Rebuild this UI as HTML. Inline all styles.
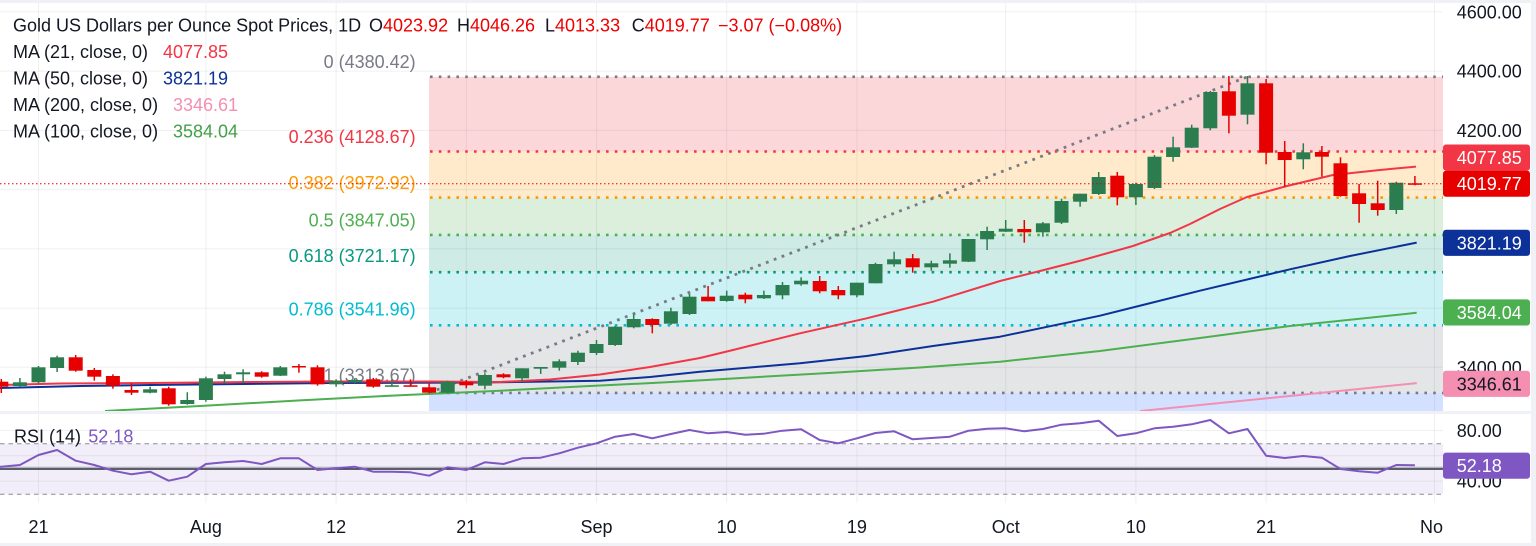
<!DOCTYPE html>
<html><head><meta charset="utf-8"><style>
html,body{margin:0;padding:0;background:#fff;}
body{width:1536px;height:546px;overflow:hidden;}
svg{display:block;font-family:"Liberation Sans",Arial,sans-serif;}
</style></head><body>
<svg width="1536" height="546" viewBox="0 0 1536 546" xmlns="http://www.w3.org/2000/svg">
<defs>
<clipPath id="cm"><rect x="0" y="3" width="1443" height="408"/></clipPath>
<clipPath id="cr"><rect x="0" y="414" width="1443" height="89"/></clipPath>
<clipPath id="cx"><rect x="0" y="503" width="1443" height="40"/></clipPath>
</defs>
<rect width="1536" height="546" fill="#fff"/>

<g clip-path="url(#cm)">
 <!-- fib fills -->
 <rect x="429" y="76.8" width="1014" height="74.7" fill="#fcd7da"/>
 <rect x="429" y="151.5" width="1014" height="46.1" fill="#ffebcc"/>
 <rect x="429" y="197.6" width="1014" height="37.3" fill="#dbefdc"/>
 <rect x="429" y="234.9" width="1014" height="37.3" fill="#ceebe6"/>
 <rect x="429" y="272.2" width="1014" height="53.1" fill="#ccf2f6"/>
 <rect x="429" y="325.3" width="1014" height="67.6" fill="#e4e5e7"/>
 <rect x="429" y="392.9" width="1014" height="20" fill="#d4e0ff"/>
 <!-- grid -->
 <g stroke="rgba(42,46,57,0.07)" stroke-width="1">
  <line x1="0" y1="11.9" x2="1443" y2="11.9"/>
  <line x1="0" y1="71.1" x2="1443" y2="71.1"/>
  <line x1="0" y1="130.4" x2="1443" y2="130.4"/>
  <line x1="0" y1="189.6" x2="1443" y2="189.6"/>
  <line x1="0" y1="248.9" x2="1443" y2="248.9"/>
  <line x1="0" y1="308.1" x2="1443" y2="308.1"/>
  <line x1="0" y1="367.3" x2="1443" y2="367.3"/>
  <line x1="38.5" y1="0" x2="38.5" y2="411"/>
  <line x1="205.9" y1="0" x2="205.9" y2="411"/>
  <line x1="336.1" y1="0" x2="336.1" y2="411"/>
  <line x1="466.3" y1="0" x2="466.3" y2="411"/>
  <line x1="596.5" y1="0" x2="596.5" y2="411"/>
  <line x1="726.7" y1="0" x2="726.7" y2="411"/>
  <line x1="856.9" y1="0" x2="856.9" y2="411"/>
  <line x1="1005.7" y1="0" x2="1005.7" y2="411"/>
  <line x1="1135.9" y1="0" x2="1135.9" y2="411"/>
  <line x1="1266.1" y1="0" x2="1266.1" y2="411"/>
  <line x1="1434.5" y1="0" x2="1434.5" y2="411"/>
 </g>
 <!-- fib lines -->
 <g stroke-width="2.6" stroke-dasharray="2.6 6.2" fill="none">
  <line x1="430" y1="76.8" x2="1443" y2="76.8" stroke="#787b86"/>
  <line x1="430" y1="151.5" x2="1443" y2="151.5" stroke="#f23645"/>
  <line x1="430" y1="197.6" x2="1443" y2="197.6" stroke="#ff9800"/>
  <line x1="430" y1="234.9" x2="1443" y2="234.9" stroke="#4caf50"/>
  <line x1="430" y1="272.2" x2="1443" y2="272.2" stroke="#089981"/>
  <line x1="430" y1="325.3" x2="1443" y2="325.3" stroke="#00bcd4"/>
  <line x1="430" y1="392.9" x2="1443" y2="392.9" stroke="#787b86"/>
 </g>
 <!-- fib labels -->
 <g font-size="18" text-anchor="end">
  <text x="415.7" y="68.2" fill="#787b86">0 (4380.42)</text>
  <text x="415.7" y="143.2" fill="#f23645">0.236 (4128.67)</text>
  <text x="415.7" y="189.2" fill="#ff9800">0.382 (3972.92)</text>
  <text x="415.7" y="226.5" fill="#4caf50">0.5 (3847.05)</text>
  <text x="415.7" y="262.2" fill="#089981">0.618 (3721.17)</text>
  <text x="415.7" y="315.5" fill="#00bcd4">0.786 (3541.96)</text>
  <text x="415.7" y="381.5" fill="#787b86">1 (3313.67)</text>
 </g>
 <!-- trend line -->
 <line x1="429" y1="392.9" x2="1247.5" y2="76.8" stroke="#787b86" stroke-width="2.8" stroke-dasharray="2.8 5.6"/>
 <!-- MAs -->
 <g fill="none" stroke-width="2" stroke-linejoin="round">
  <polyline stroke="#f48fb1" points="1140,411 1290,396 1416.7,383.1"/>
  <polyline stroke="#4caf50" points="105,411 200,406 300,400.4 400,395.2 500,390.7 580,386.5 666.7,382.3 750,377.5 833,372.7 920,367.5 1000,361.7 1100,351 1200,338 1290,326 1416.7,312.8"/>
  <polyline stroke="#0c3299" points="0,388 80,386 150,385 330,383 480,382.5 600,380.7 650,377 700,371.7 800,363.3 866.7,356 933,346 1000,336.7 1100,315.7 1200,290.7 1290,269.3 1350,256 1416.7,242.6"/>
  <polyline stroke="#f23645" points="0,385 60,383.5 150,383 250,382 330,381.5 430,381.5 500,382 550,379.5 600,374.5 650,367 700,358 733,350 800,333.3 866.7,318.3 933,301.7 1000,281 1040,271 1083,260 1133,246 1150,240 1170,233 1190,224 1220,209 1247,197 1287,186 1333,175 1380,170 1416,166.6"/>
 </g>
 <!-- candles green -->
 <g fill="#2b7d4f">
  <rect x="19.15" y="378" width="1.5" height="9"/><rect x="12.9" y="382.3" width="14" height="3.7"/>
  <rect x="37.75" y="366" width="1.5" height="17.3"/><rect x="31.5" y="367.3" width="14" height="15"/>
  <rect x="56.35" y="355.7" width="1.5" height="16.3"/><rect x="50.1" y="357.3" width="14" height="10.7"/>
  <rect x="149.35" y="386.7" width="1.5" height="6.6"/><rect x="143.1" y="389.3" width="14" height="3.4"/>
  <rect x="186.55" y="392.3" width="1.5" height="12.4"/><rect x="180.3" y="400" width="14" height="4"/>
  <rect x="205.15" y="376.7" width="1.5" height="25"/><rect x="198.9" y="378.3" width="14" height="21.7"/>
  <rect x="223.75" y="371.7" width="1.5" height="11.6"/><rect x="217.5" y="374.3" width="14" height="4.7"/>
  <rect x="242.35" y="369.3" width="1.5" height="14"/><rect x="236.1" y="372.3" width="14" height="2"/>
  <rect x="279.55" y="366" width="1.5" height="10"/><rect x="273.3" y="367.3" width="14" height="8.4"/>
  <rect x="335.35" y="379.3" width="1.5" height="7.4"/><rect x="329.1" y="381" width="14" height="3.3"/>
  <rect x="353.95" y="378.3" width="1.5" height="5"/><rect x="347.7" y="380" width="14" height="2.3"/>
  <rect x="391.15" y="379.3" width="1.5" height="7.4"/><rect x="384.9" y="385.3" width="14" height="1.5"/>
  <rect x="446.95" y="380.7" width="1.5" height="12.6"/><rect x="440.7" y="381.7" width="14" height="11"/>
  <rect x="484.15" y="373.3" width="1.5" height="16"/><rect x="477.9" y="375" width="14" height="10.7"/>
  <rect x="521.35" y="368.3" width="1.5" height="13.4"/><rect x="515.1" y="368.3" width="14" height="10"/>
  <rect x="539.95" y="367" width="1.5" height="7"/><rect x="533.7" y="367" width="14" height="1.7"/>
  <rect x="558.55" y="359.3" width="1.5" height="11.4"/><rect x="552.3" y="361.3" width="14" height="6.4"/>
  <rect x="577.15" y="350.7" width="1.5" height="14.3"/><rect x="570.9" y="352.7" width="14" height="9.3"/>
  <rect x="595.75" y="340" width="1.5" height="15"/><rect x="589.5" y="344" width="14" height="9"/>
  <rect x="614.35" y="326" width="1.5" height="20"/><rect x="608.1" y="326.7" width="14" height="18.3"/>
  <rect x="632.95" y="314.3" width="1.5" height="14"/><rect x="626.7" y="319" width="14" height="8.3"/>
  <rect x="670.15" y="307.7" width="1.5" height="17.3"/><rect x="663.9" y="311.3" width="14" height="12.4"/>
  <rect x="688.75" y="294" width="1.5" height="21"/><rect x="682.5" y="296.7" width="14" height="17.3"/>
  <rect x="725.95" y="290.7" width="1.5" height="11"/><rect x="719.7" y="295.7" width="14" height="5.3"/>
  <rect x="763.15" y="290.7" width="1.5" height="8.3"/><rect x="756.9" y="295" width="14" height="3.3"/>
  <rect x="781.75" y="282" width="1.5" height="17.3"/><rect x="775.5" y="285" width="14" height="10.3"/>
  <rect x="800.35" y="277.3" width="1.5" height="8.4"/><rect x="794.1" y="280.7" width="14" height="3.6"/>
  <rect x="856.15" y="282.7" width="1.5" height="14.6"/><rect x="849.9" y="282.7" width="14" height="12.6"/>
  <rect x="874.75" y="262.7" width="1.5" height="20.6"/><rect x="868.5" y="264" width="14" height="19.3"/>
  <rect x="893.35" y="251.7" width="1.5" height="15"/><rect x="887.1" y="259.3" width="14" height="5"/>
  <rect x="930.55" y="260.7" width="1.5" height="10"/><rect x="924.3" y="263.3" width="14" height="4"/>
  <rect x="949.15" y="253.3" width="1.5" height="14.4"/><rect x="942.9" y="260.3" width="14" height="3.4"/>
  <rect x="967.75" y="239" width="1.5" height="23"/><rect x="961.5" y="239" width="14" height="22.7"/>
  <rect x="986.35" y="226.7" width="1.5" height="23.3"/><rect x="980.1" y="231" width="14" height="8.3"/>
  <rect x="1004.95" y="220" width="1.5" height="12"/><rect x="998.7" y="228.7" width="14" height="3"/>
  <rect x="1042.15" y="222" width="1.5" height="14.7"/><rect x="1035.9" y="223.3" width="14" height="9"/>
  <rect x="1060.75" y="198.7" width="1.5" height="25.3"/><rect x="1054.5" y="201" width="14" height="21.7"/>
  <rect x="1079.35" y="193.7" width="1.5" height="13"/><rect x="1073.1" y="193.7" width="14" height="8"/>
  <rect x="1097.95" y="172" width="1.5" height="23"/><rect x="1091.7" y="177" width="14" height="17"/>
  <rect x="1135.15" y="182.7" width="1.5" height="22.3"/><rect x="1128.9" y="184" width="14" height="13.3"/>
  <rect x="1153.75" y="155" width="1.5" height="34"/><rect x="1147.5" y="156.7" width="14" height="31.3"/>
  <rect x="1172.35" y="136.7" width="1.5" height="25"/><rect x="1166.1" y="147.3" width="14" height="9.7"/>
  <rect x="1190.95" y="124.7" width="1.5" height="23.3"/><rect x="1184.7" y="127.7" width="14" height="20"/>
  <rect x="1209.55" y="91" width="1.5" height="39.3"/><rect x="1203.3" y="92" width="14" height="36.3"/>
  <rect x="1246.75" y="76" width="1.5" height="48.3"/><rect x="1240.5" y="83.3" width="14" height="31.4"/>
  <rect x="1302.55" y="143.3" width="1.5" height="26"/><rect x="1296.3" y="152.3" width="14" height="7"/>
  <rect x="1395.55" y="181.7" width="1.5" height="32.3"/><rect x="1389.3" y="182.7" width="14" height="27.3"/>
 </g>
 <!-- candles red -->
 <g fill="#e60000">
  <rect x="0.55" y="379" width="1.5" height="14"/><rect x="-5.7" y="381.7" width="14" height="5"/>
  <rect x="74.95" y="355" width="1.5" height="16.7"/><rect x="68.7" y="357.3" width="14" height="13.4"/>
  <rect x="93.55" y="368" width="1.5" height="12.7"/><rect x="87.3" y="370" width="14" height="6.7"/>
  <rect x="112.15" y="374.3" width="1.5" height="14.4"/><rect x="105.9" y="376" width="14" height="9.7"/>
  <rect x="130.75" y="383.3" width="1.5" height="11.7"/><rect x="124.5" y="390" width="14" height="2.7"/>
  <rect x="167.95" y="386.7" width="1.5" height="19"/><rect x="161.7" y="388.3" width="14" height="16"/>
  <rect x="260.95" y="371.3" width="1.5" height="6.4"/><rect x="254.7" y="372.3" width="14" height="4.4"/>
  <rect x="298.15" y="364" width="1.5" height="8.7"/><rect x="291.9" y="366" width="14" height="1.5"/>
  <rect x="316.75" y="365.3" width="1.5" height="20.4"/><rect x="310.5" y="367.3" width="14" height="17"/>
  <rect x="372.55" y="378" width="1.5" height="9.7"/><rect x="366.3" y="379.3" width="14" height="7.4"/>
  <rect x="409.75" y="379.3" width="1.5" height="7.4"/><rect x="403.5" y="385.3" width="14" height="1.5"/>
  <rect x="428.35" y="382.7" width="1.5" height="10.6"/><rect x="422.1" y="387.3" width="14" height="5.4"/>
  <rect x="465.55" y="380" width="1.5" height="8.3"/><rect x="459.3" y="382" width="14" height="3.3"/>
  <rect x="502.75" y="373.3" width="1.5" height="5"/><rect x="496.5" y="374.3" width="14" height="3"/>
  <rect x="651.55" y="318.3" width="1.5" height="15"/><rect x="645.3" y="319" width="14" height="6"/>
  <rect x="707.35" y="286" width="1.5" height="15.3"/><rect x="701.1" y="296.7" width="14" height="4.6"/>
  <rect x="744.55" y="292.7" width="1.5" height="10.6"/><rect x="738.3" y="294.7" width="14" height="4.6"/>
  <rect x="818.95" y="276" width="1.5" height="17.3"/><rect x="812.7" y="281" width="14" height="10.3"/>
  <rect x="837.55" y="286" width="1.5" height="13.3"/><rect x="831.3" y="290" width="14" height="5.3"/>
  <rect x="911.95" y="254" width="1.5" height="18.7"/><rect x="905.7" y="258.3" width="14" height="9"/>
  <rect x="1023.55" y="220" width="1.5" height="22.7"/><rect x="1017.3" y="229" width="14" height="3.3"/>
  <rect x="1116.55" y="172" width="1.5" height="33.3"/><rect x="1110.3" y="175.7" width="14" height="21.6"/>
  <rect x="1228.15" y="76" width="1.5" height="57.3"/><rect x="1221.9" y="91.3" width="14" height="24.4"/>
  <rect x="1265.35" y="79" width="1.5" height="85.3"/><rect x="1259.1" y="83.3" width="14" height="69.4"/>
  <rect x="1283.95" y="141" width="1.5" height="45.7"/><rect x="1277.7" y="152" width="14" height="8"/>
  <rect x="1321.15" y="146" width="1.5" height="30.7"/><rect x="1314.9" y="152" width="14" height="4.7"/>
  <rect x="1339.75" y="157.3" width="1.5" height="39.4"/><rect x="1333.5" y="163.3" width="14" height="32.7"/>
  <rect x="1358.35" y="184" width="1.5" height="38.7"/><rect x="1352.1" y="193.3" width="14" height="10.7"/>
  <rect x="1376.95" y="180.7" width="1.5" height="35"/><rect x="1370.7" y="203.3" width="14" height="6.7"/>
  <rect x="1414.15" y="176" width="1.5" height="9.3"/><rect x="1407.9" y="183.3" width="14" height="1.5"/>
 </g>
 <!-- current price line -->
 <line x1="0" y1="183.8" x2="1443" y2="183.8" stroke="#e60000" stroke-width="1" stroke-dasharray="1.5 2.5"/>
</g>

<!-- RSI panel -->
<g clip-path="url(#cr)">
 <rect x="0" y="443.7" width="1443" height="50.6" fill="#f2eef9"/>
 <g stroke="rgba(42,46,57,0.07)" stroke-width="1">
  <line x1="0" y1="430.5" x2="1443" y2="430.5"/>
  <line x1="0" y1="455.8" x2="1443" y2="455.8"/>
  <line x1="0" y1="481.1" x2="1443" y2="481.1"/>
  <line x1="38.5" y1="414" x2="38.5" y2="503"/>
  <line x1="205.9" y1="414" x2="205.9" y2="503"/>
  <line x1="336.1" y1="414" x2="336.1" y2="503"/>
  <line x1="466.3" y1="414" x2="466.3" y2="503"/>
  <line x1="596.5" y1="414" x2="596.5" y2="503"/>
  <line x1="726.7" y1="414" x2="726.7" y2="503"/>
  <line x1="856.9" y1="414" x2="856.9" y2="503"/>
  <line x1="1005.7" y1="414" x2="1005.7" y2="503"/>
  <line x1="1135.9" y1="414" x2="1135.9" y2="503"/>
  <line x1="1266.1" y1="414" x2="1266.1" y2="503"/>
  <line x1="1434.5" y1="414" x2="1434.5" y2="503"/>
 </g>
 <line x1="0" y1="443.7" x2="1443" y2="443.7" stroke="#8a8d96" stroke-width="1" stroke-dasharray="4.5 4"/>
 <line x1="0" y1="494.3" x2="1443" y2="494.3" stroke="#8a8d96" stroke-width="1" stroke-dasharray="4.5 4"/>
 <line x1="0" y1="467.3" x2="1443" y2="467.3" stroke="#a0a3ab" stroke-width="1"/>
 <line x1="0" y1="469" x2="1443" y2="469" stroke="#2a2e39" stroke-width="1.6"/>
 <polyline fill="none" stroke="#7e57c2" stroke-width="2" stroke-linejoin="round" points="0,466.7 1.3,466.7 19.9,465 38.5,455 57.1,450 75.7,460.7 94.3,465 112.9,470.7 131.5,474.3 150.1,471.7 168.7,480.7 187.3,476.7 205.9,464 224.5,462.3 243.1,461 261.7,464 280.3,458.3 298.9,458.3 317.5,470 336.1,468.3 354.7,466.7 373.3,471.7 391.9,471.7 410.5,472.3 429.1,475.7 447.7,467.3 466.3,470 484.9,462.3 503.5,464 522.1,458.3 540.7,457.7 559.3,453.3 577.9,447.7 596.5,443.3 615.1,436.7 633.7,434 652.3,438.3 670.9,434 689.5,430 708.1,433.3 726.7,432 745.3,434.7 763.9,433.7 782.5,430.7 801.1,429.3 819.7,440 838.3,443.3 856.9,438.3 875.5,433 894.1,431.3 912.7,439.3 931.3,438 949.9,436.7 968.5,430.7 987.1,428.7 1005.7,428.3 1024.3,431.3 1042.9,429 1061.5,424.7 1080.1,423.3 1098.7,420.7 1117.3,436 1135.9,433.3 1154.5,428.3 1173.1,426.7 1191.7,424.3 1210.3,420 1228.9,433.3 1247.5,429 1266.1,455.7 1284.7,458 1303.3,456 1321.9,457.7 1340.5,469 1359.1,471.3 1377.7,472.7 1396.3,465 1414.9,465.3"/>
</g>

<!-- separators / frame -->
<rect x="0" y="411" width="1536" height="3" fill="#eff1f6"/>
<rect x="0" y="0" width="1536" height="3" fill="#eff1f6"/>
<rect x="0" y="543" width="1536" height="3" fill="#eff1f6"/>
<rect x="1531" y="0" width="5" height="546" fill="#eff1f6"/>

<!-- price axis labels -->
<g font-size="18" fill="#131722">
 <text x="1456.7" y="18.4">4600.00</text>
 <text x="1456.7" y="77.6">4400.00</text>
 <text x="1456.7" y="136.9">4200.00</text>
 <text x="1456.7" y="373.8">3400.00</text>
 <text x="1456.7" y="437">80.00</text>
 <text x="1456.7" y="487.6">40.00</text>
</g>
<!-- price boxes -->
<g font-size="18">
 <rect x="1443" y="144.5" width="87" height="26.1" rx="3" fill="#f23645"/>
 <text x="1456.7" y="164.1" fill="#fff">4077.85</text>
 <rect x="1443" y="170.6" width="87" height="26.1" rx="3" fill="#e60000"/>
 <text x="1456.7" y="190.2" fill="#fff">4019.77</text>
 <rect x="1443" y="229.8" width="87" height="26.1" rx="3" fill="#0c3299"/>
 <text x="1456.7" y="249.4" fill="#fff">3821.19</text>
 <rect x="1443" y="299.4" width="87" height="26.1" rx="3" fill="#4caf50"/>
 <text x="1456.7" y="319" fill="#fff">3584.04</text>
 <rect x="1443" y="370.8" width="87" height="26.1" rx="3" fill="#f48fb1"/>
 <text x="1456.7" y="390.4" fill="#131722">3346.61</text>
 <rect x="1443" y="452.6" width="87" height="26.1" rx="3" fill="#7e57c2"/>
 <text x="1456.7" y="472.2" fill="#fff">52.18</text>
</g>

<!-- legend -->
<g font-size="18" fill="#131722">
 <text x="13" y="31.5">Gold US Dollars per Ounce Spot Prices, 1D</text>
 <text x="369" y="31.5">O<tspan fill="#ee0000">4023.92</tspan></text>
 <text x="457" y="31.5">H<tspan fill="#ee0000">4046.26</tspan></text>
 <text x="545" y="31.5">L<tspan fill="#ee0000">4013.33</tspan></text>
 <text x="631.7" y="31.5">C<tspan fill="#ee0000">4019.77</tspan></text>
 <text x="718" y="31.5" fill="#ee0000">−3.07 (−0.08%)</text>
 <text x="13" y="58">MA (21, close, 0)</text><text x="163" y="58" fill="#f23645">4077.85</text>
 <text x="13" y="84.5">MA (50, close, 0)</text><text x="163" y="84.5" fill="#0c3299">3821.19</text>
 <text x="13" y="111">MA (200, close, 0)</text><text x="173" y="111" fill="#f48fb1">3346.61</text>
 <text x="13" y="137.5">MA (100, close, 0)</text><text x="173" y="137.5" fill="#43a047">3584.04</text>
 <text x="14" y="442.5">RSI (14)</text><text x="88.3" y="442.5" fill="#7e57c2">52.18</text>
</g>

<!-- x axis -->
<g clip-path="url(#cx)" font-size="18" fill="#131722" text-anchor="middle">
 <text x="38.5" y="533.2">21</text>
 <text x="205.9" y="533.2">Aug</text>
 <text x="336.1" y="533.2">12</text>
 <text x="466.3" y="533.2">21</text>
 <text x="596.5" y="533.2">Sep</text>
 <text x="726.7" y="533.2">10</text>
 <text x="856.9" y="533.2">19</text>
 <text x="1005.7" y="533.2">Oct</text>
 <text x="1135.9" y="533.2">10</text>
 <text x="1266.1" y="533.2">21</text>
 <text x="1436" y="533.2">Nov</text>
</g>
</svg>
</body></html>
